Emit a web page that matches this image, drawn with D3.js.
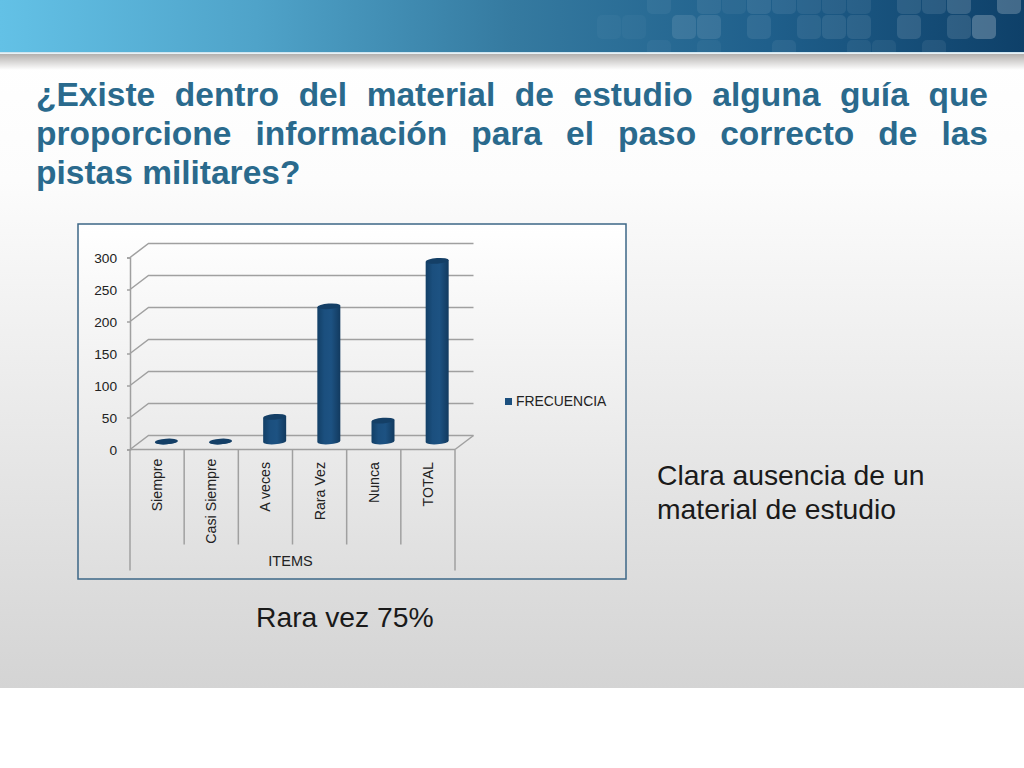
<!DOCTYPE html>
<html>
<head>
<meta charset="utf-8">
<title>Rara vez 75%</title>
<script src="https://d3js.org/d3.v7.min.js"></script>
<style>
  html, body { margin: 0; padding: 0; background: #fff; }
  #slide { position: relative; width: 1024px; height: 768px; overflow: hidden; }
  svg { position: absolute; left: 0; top: 0; }
  #titulo {
    position: absolute; left: 36px; top: 75px; width: 952px;
    font: bold 33.5px/39px "Liberation Sans", Arial, sans-serif;
    color: #2a6a8d;
  }
  #titulo div { text-align: justify; text-align-last: justify; }
  #titulo div:last-child { text-align-last: left; }
</style>
</head>
<body>
<div id="slide">
  <svg id="chart" width="1024" height="768"></svg>
  <div id="titulo"></div>
</div>
<script>
var tituloLineas = ["¿Existe dentro del material de estudio alguna guía que", "proporcione información para el paso correcto de las", "pistas militares?"];
var items = ["Siempre", "Casi Siempre", "A veces", "Rara Vez", "Nunca", "TOTAL"];
var frecuencia = [0, 0, 39, 214, 33, 286];
var yTicks = [0, 50, 100, 150, 200, 250, 300];
var serie = "FRECUENCIA";
var grupo = "ITEMS";
var notaLateral = ["Clara ausencia de un", "material de estudio"];
var notaInferior = "Rara vez 75%";
// decorative squares in the banner: [column, row, opacity]
var cuadros = [[0,0,.05],[2,0,.07],[3,0,.05],[4,0,.09],[5,0,.08],[6,0,.07],[7,0,.07],[8,0,.07],[10,0,.1],[11,0,.1],[12,0,.16],[14,0,.22],
  [-2,1,.03],[-1,1,.03],[1,1,.1],[2,1,.1],[4,1,.08],[6,1,.08],[7,1,.09],[8,1,.09],[10,1,.12],[12,1,.12],[13,1,.24],
  [0,2,.04],[2,2,.04],[5,2,.06],[8,2,.06],[9,2,.06],[11,2,.07]];

var FONT = '"Liberation Sans", Arial, sans-serif';
var svg = d3.select("#chart");
var defs = svg.append("defs");

function gradient(id, horizontal, stops) {
  var g = defs.append("linearGradient").attr("id", id)
    .attr("x1", 0).attr("y1", 0)
    .attr("x2", horizontal ? 1 : 0).attr("y2", horizontal ? 0 : 1);
  stops.forEach(function(s) {
    g.append("stop").attr("offset", s[0]).attr("stop-color", s[1]);
  });
}
gradient("fondo", false, [[0, "#ffffff"], [0.2, "#fcfcfc"], [1, "#d4d4d4"]]);
gradient("banda", true, [[0, "#63c1e6"], [0.25, "#4fa3c9"], [0.5, "#357aa0"], [0.75, "#1f5f8b"], [1, "#0e4069"]]);
gradient("sombra", false, [[0, "#b3b0ae"], [1, "#ffffff"]]);
gradient("marco", false, [[0, "#ffffff"], [1, "#dedede"]]);
gradient("barra", true, [[0, "#123f66"], [0.3, "#1b4f7e"], [0.6, "#1d5282"], [1, "#123a5f"]]);
defs.append("clipPath").attr("id", "corte").append("rect")
  .attr("x", 0).attr("y", 0).attr("width", 1024).attr("height", 52);

// slide background
svg.append("rect").attr("x", 0).attr("y", 54).attr("width", 1024).attr("height", 634).attr("fill", "url(#fondo)");
svg.append("rect").attr("x", 0).attr("y", 0).attr("width", 1024).attr("height", 52).attr("fill", "url(#banda)");
svg.append("rect").attr("x", 0).attr("y", 52).attr("width", 1024).attr("height", 1.5).attr("fill", "#cfe4ee");
svg.append("rect").attr("x", 0).attr("y", 54).attr("width", 1024).attr("height", 16).attr("fill", "url(#sombra)");

svg.append("g").attr("clip-path", "url(#corte)")
  .selectAll("rect").data(cuadros).enter().append("rect")
  .attr("x", function(d) { return 647 + d[0] * 25; })
  .attr("y", function(d) { return -10 + d[1] * 25; })
  .attr("width", 24).attr("height", 24).attr("rx", 5)
  .attr("fill", "#fff")
  .attr("fill-opacity", function(d) { return d[2]; });

d3.select("#titulo").selectAll("div").data(tituloLineas).enter().append("div")
  .text(function(d) { return d; });

// chart frame
svg.append("rect").attr("x", 78).attr("y", 224).attr("width", 548).attr("height", 355)
  .attr("fill", "url(#marco)").attr("stroke", "#3d6787").attr("stroke-width", 1.5);

var dx = 18.5, dy = -14;   // depth of the 3d box
var x = d3.scaleBand().domain(items).range([130, 455]);
var y = d3.scaleLinear().domain([0, 300]).range([449.5, 257.5]);
var yBarra = d3.scaleLinear().domain([0, 300]).range([441.5, 252]);  // plane of the bars, mid depth
var GRID = "#a0a0a0";

// back wall gridlines and the diagonals on the left wall
var rejilla = svg.append("g").attr("fill", "none").attr("stroke", GRID).attr("stroke-width", 1.5);
rejilla.selectAll("path").data(yTicks).enter().append("path")
  .attr("d", function(t) {
    return "M" + x.range()[0] + "," + y(t) + "l" + dx + "," + dy + "H" + (x.range()[1] + dx);
  });
// floor right edge
rejilla.append("path").attr("d", "M" + x.range()[1] + "," + y(0) + "l" + dx + "," + dy);

// value axis
var ejeY = svg.append("g").attr("transform", "translate(" + x.range()[0] + ",0)")
  .call(d3.axisLeft(y).tickValues(yTicks).tickSize(3).tickPadding(10));
ejeY.selectAll("path,line").attr("stroke", GRID).attr("stroke-width", 1.5);
ejeY.selectAll("text").attr("font-family", FONT).attr("font-size", 13.7).attr("fill", "#222")
  .attr("transform", "translate(0,0.7)");

// category axis, two levels
var base = y(0);
var ejeX = svg.append("g").attr("stroke", GRID).attr("stroke-width", 1.5);
ejeX.append("line").attr("x1", x.range()[0]).attr("x2", x.range()[1]).attr("y1", base).attr("y2", base);
ejeX.selectAll("line.sep").data(items.slice(1)).enter().append("line").attr("class", "sep")
  .attr("x1", function(d) { return x(d); }).attr("x2", function(d) { return x(d); })
  .attr("y1", base).attr("y2", base + 95);
x.range().forEach(function(v) {
  ejeX.append("line").attr("x1", v).attr("x2", v).attr("y1", base).attr("y2", base + 121);
});

svg.append("g").selectAll("text").data(items).enter().append("text")
  .attr("transform", function(d, i) {
    return "translate(" + (x(d) + x.bandwidth() / 2 + 5) + "," + (base + (i < 2 ? 9 : 12.5)) + ") rotate(-90)";
  })
  .attr("text-anchor", "end")
  .attr("font-family", FONT).attr("font-size", 14.2).attr("fill", "#222")
  .text(function(d) { return d; });

svg.append("text").attr("x", (x.range()[0] + x.range()[1]) / 2 - 2).attr("y", 566)
  .attr("text-anchor", "middle").attr("font-family", FONT).attr("font-size", 14.5).attr("fill", "#222")
  .text(grupo);

// cylinders, tilted a little like the 3d view of the original
var rx = 11.5, ry = 2.8, tilt = 0.8;
var barras = svg.append("g").selectAll("g").data(items).enter().append("g")
  .attr("transform", function(d) {
    return "translate(" + (x(d) + x.bandwidth() / 2 + dx / 2) + ",0)";
  });
barras.append("path")
  .attr("fill", "url(#barra)")
  .attr("d", function(d, i) {
    var top = yBarra(frecuencia[i]), bot = yBarra(0);
    return "M" + (-rx) + "," + (top + tilt) + "V" + (bot + tilt) +
      "A" + rx + "," + ry + " -4 0 0 " + rx + "," + (bot - tilt) +
      "V" + (top - tilt) + "Z";
  });
barras.append("ellipse")
  .attr("rx", rx).attr("ry", ry)
  .attr("transform", function(d, i) { return "translate(0," + yBarra(frecuencia[i]) + ") rotate(-4)"; })
  .attr("fill", "#143f66");

// legend
svg.append("rect").attr("x", 505).attr("y", 398).attr("width", 7).attr("height", 7).attr("fill", "#1b4f7e");
svg.append("text").attr("x", 516).attr("y", 406).attr("font-family", FONT).attr("font-size", 13.9).attr("fill", "#222").text(serie);

// side notes
svg.append("g").selectAll("text").data(notaLateral).enter().append("text")
  .attr("x", 657).attr("y", function(d, i) { return 485 + i * 34; })
  .attr("font-family", FONT).attr("font-size", 28.3).attr("fill", "#1a1a1a")
  .text(function(d) { return d; });
svg.append("text").attr("x", 256).attr("y", 627)
  .attr("font-family", FONT).attr("font-size", 28.3).attr("fill", "#1a1a1a").text(notaInferior);
</script>
</body>
</html>
